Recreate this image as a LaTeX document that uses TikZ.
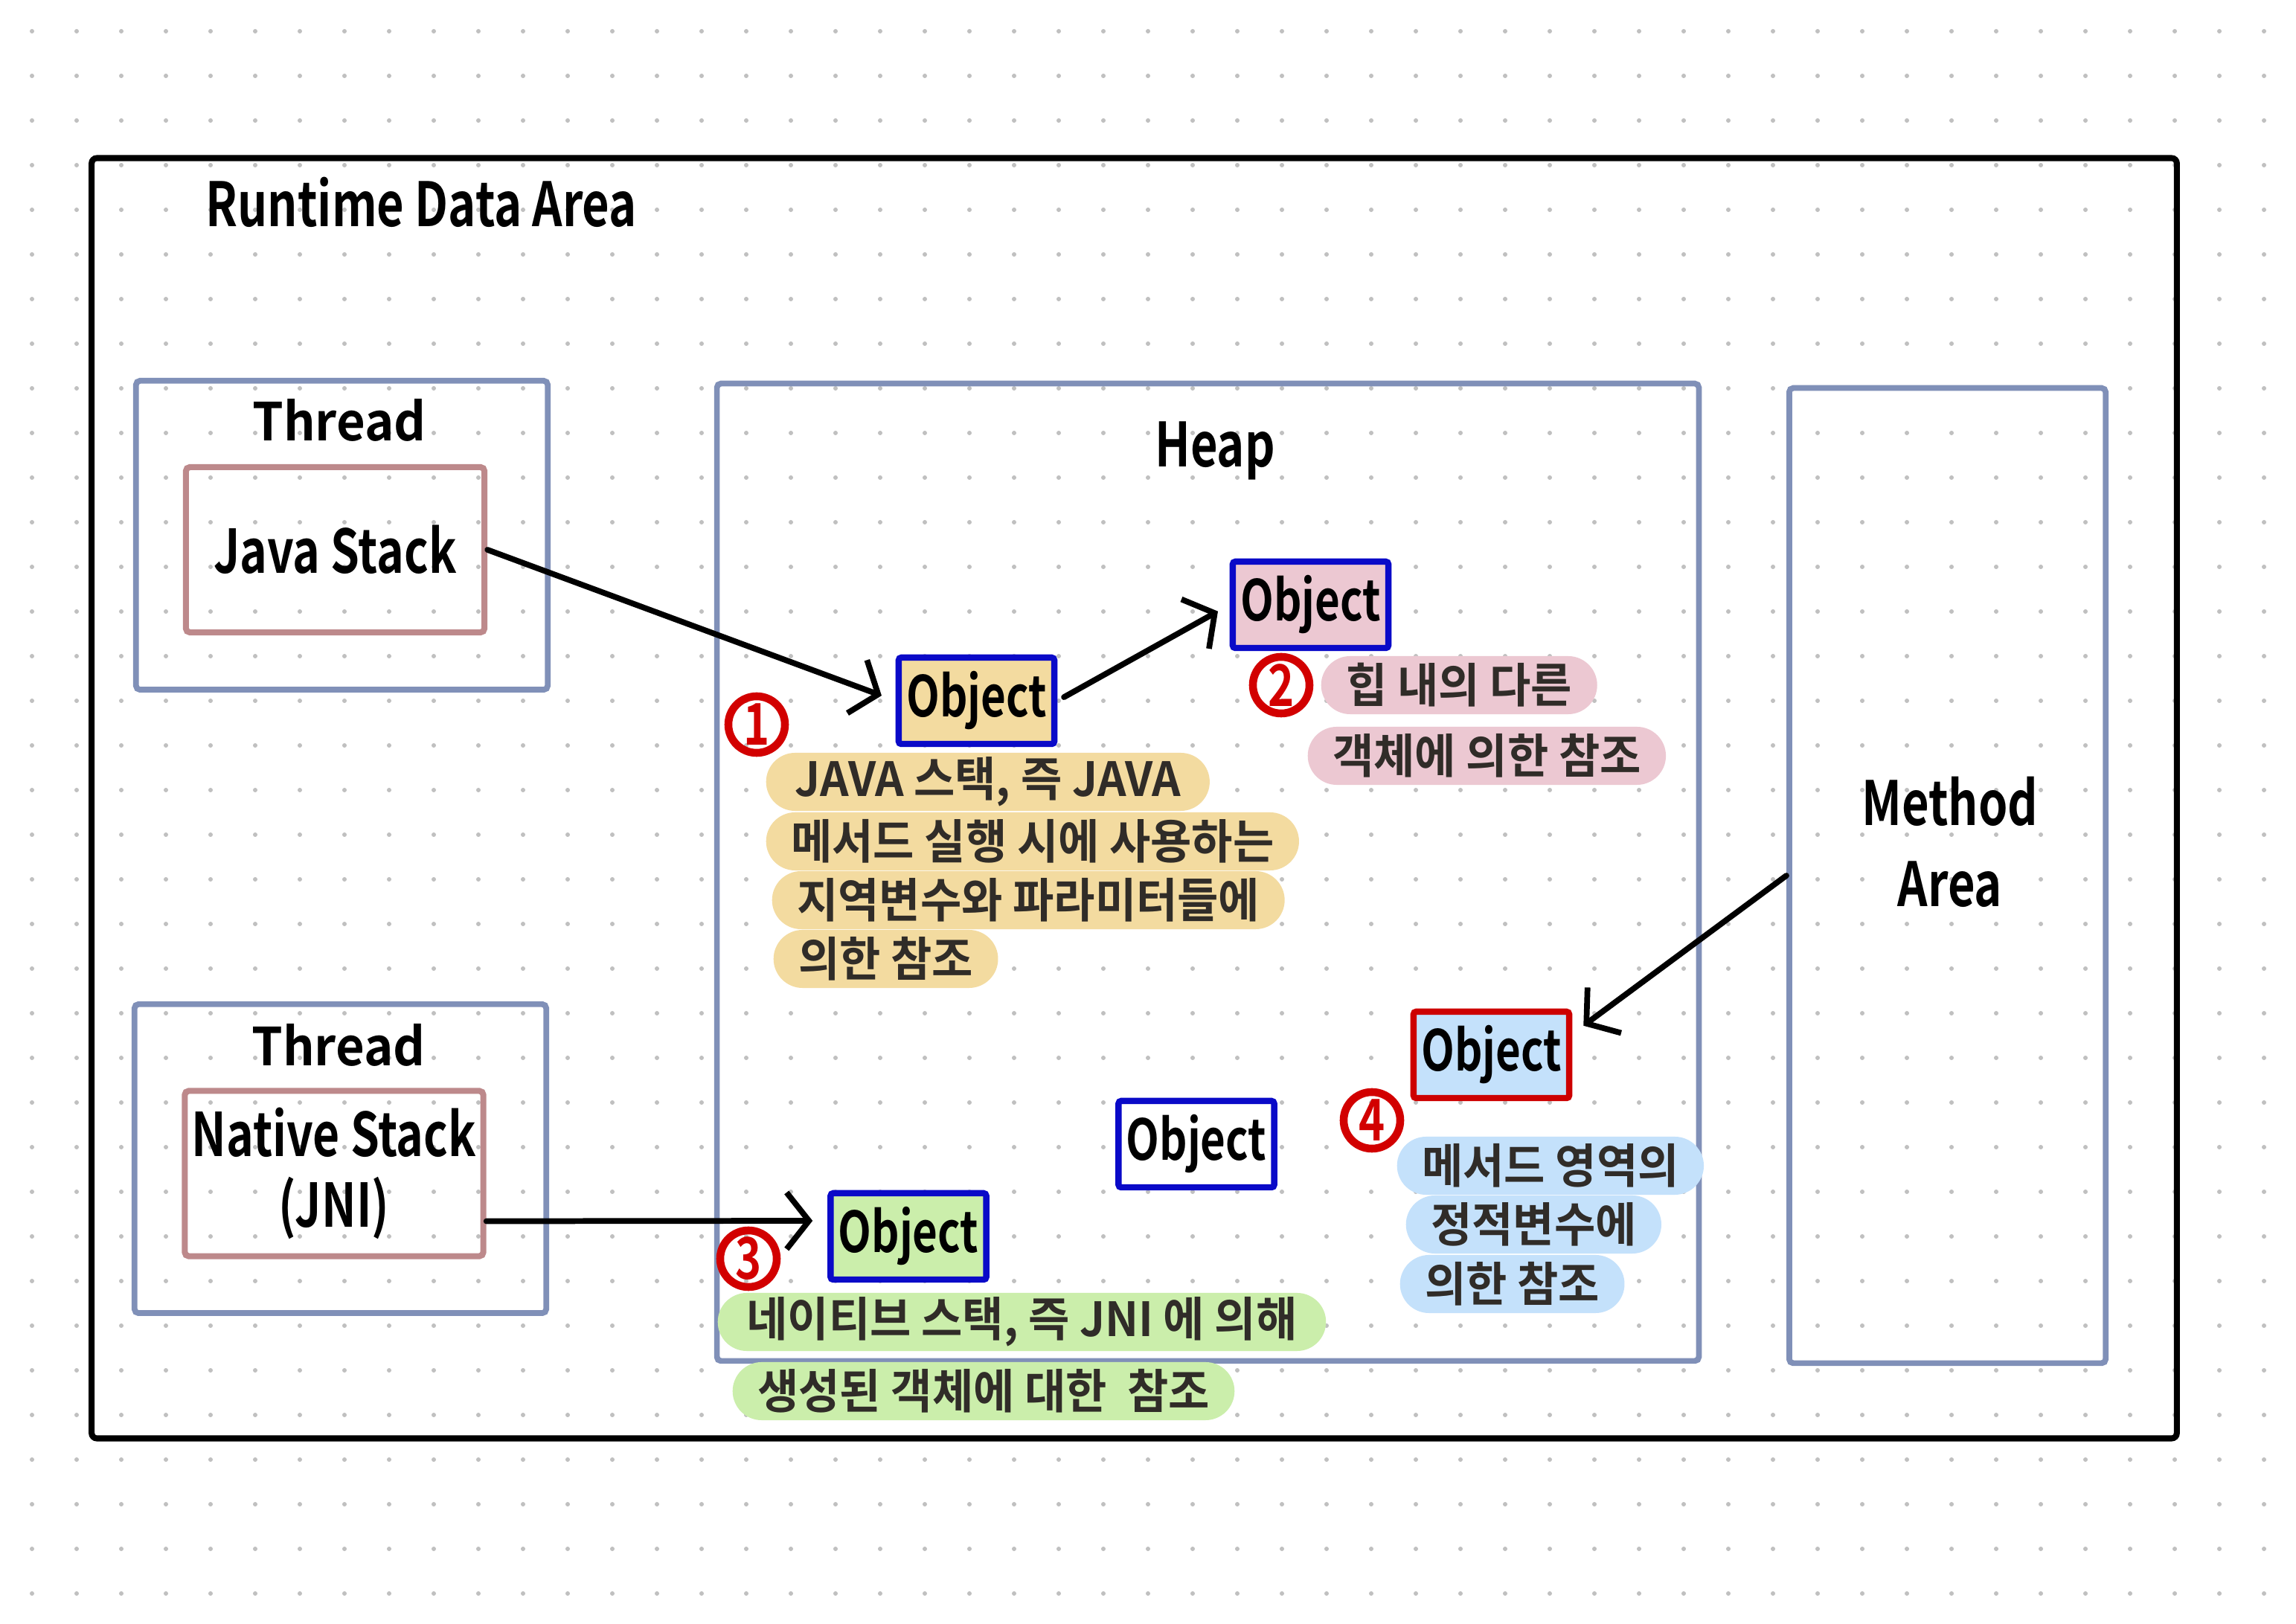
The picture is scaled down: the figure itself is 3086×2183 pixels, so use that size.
\documentclass[tikz,border=0pt]{standalone}
\usepackage{fontspec,xcolor,tikz}
\usetikzlibrary{arrows.meta,calc,positioning,shapes.misc}
\setmainfont{Noto Sans CJK KR}
\newfontfamily\headfont{Noto Sans CJK KR Bold}[FakeStretch=0.77]
\newfontfamily\handfont{Noto Sans CJK KR Bold}[FakeStretch=0.95]
\definecolor{slate}{RGB}{128,144,184}
\definecolor{rose}{RGB}{189,137,139}
\definecolor{objblue}{RGB}{10,10,200}
\definecolor{objred}{RGB}{205,0,0}
\definecolor{numred}{RGB}{210,0,0}
\definecolor{ink}{RGB}{48,44,40}
\definecolor{dotgray}{RGB}{192,192,192}
\definecolor{hlyellow}{RGB}{243,219,160}
\definecolor{hlpink}{RGB}{236,200,210}
\definecolor{hlgreen}{RGB}{203,238,171}
\definecolor{hlblue}{RGB}{196,225,251}

\begin{document}
\begin{tikzpicture}[x=0.01cm,y=-0.01cm,>={Straight Barb[length=3mm,width=7.6mm]},
  every node/.style={inner sep=0pt},
  heading/.style={font=\headfont\fontsize{23.3}{31}\selectfont},
  threadlbl/.style={font=\handfont\fontsize{20}{25}\selectfont},
  areabox/.style={draw=slate,line width=2.2pt,rounded corners=1.5pt},
  stackbox/.style={draw=rose,line width=2.3pt,rounded corners=1.5pt,minimum width=4.01cm,
    minimum height=2.22cm,align=center,font=\headfont\fontsize{23}{27}\selectfont},
  objbox/.style={draw=objblue,line width=2.4pt,rounded corners=1pt,minimum width=2.09cm,
    minimum height=1.16cm,font=\headfont\fontsize{21.5}{25}\selectfont},
  note/.style={rounded rectangle,minimum height=0.78cm,inner xsep=0.2cm,text=ink,
    font=\handfont\fontsize{18}{22}\selectfont},
  numcirc/.style={circle,draw=numred,line width=3pt,minimum size=0.76cm,text=numred,
    font=\headfont\fontsize{22}{24}\selectfont},
  ref/.style={->,line width=2.2pt,line cap=round}]
\useasboundingbox (0,0) rectangle (3086,2183);
\fill[white] (0,0) rectangle (3086,2183);
% dotted paper
\foreach \i in {0,...,50}
  \foreach \j in {0,...,35}
    \fill[dotgray] (43+60*\i,42+60*\j) circle[radius=0.03cm];

% areas
\node[draw=black,line width=2.3pt,rounded corners=2pt,minimum width=28.01cm,minimum height=17.2cm] (rda) at (1524.5,1073) {};
\node[heading,anchor=west] (rdatitle) at (276,272) {Runtime Data Area};
\node[areabox,minimum width=5.53cm,minimum height=4.15cm] (thrA) at (459.5,719.5) {};
\node[areabox,minimum width=5.53cm,minimum height=4.15cm] (thrB) at (457.5,1557.5) {};
\node[threadlbl] at (456,565) {Thread};
\node[threadlbl] at (455,1405) {Thread};
\node[stackbox] (jstack) at (450.5,739) {Java Stack};
\node[stackbox] (nstack) at (449,1577.5) {Native Stack\\(JNI)};
\node[areabox,minimum width=13.19cm,minimum height=13.13cm] (heap) at (1623.5,1172.5) {};
\node[heading] (heaplbl) at (1633,606) {Heap};
\node[areabox,minimum width=4.25cm,minimum height=13.1cm] (marea) at (2617.5,1177) {};
\node[heading,align=center] (marealbl) at (2621,1132) {Method\\Area};

% notes
\node[note,fill=hlyellow,anchor=west] (note1a) at (1029,1051) {JAVA 스택, 즉 JAVA};
\node[note,fill=hlyellow,anchor=west] (note1b) at (1029,1131) {메서드 실행 시에 사용하는};
\node[note,fill=hlyellow,anchor=west] (note1c) at (1037,1210) {지역변수와 파라미터들에};
\node[note,fill=hlyellow,anchor=west] (note1d) at (1039,1289) {의한 참조};
\node[note,fill=hlpink,anchor=west] (note2a) at (1775,921) {힙 내의 다른};
\node[note,fill=hlpink,anchor=west] (note2b) at (1757,1016) {객체에 의한 참조};
\node[note,fill=hlgreen,anchor=west] (note3a) at (964,1777) {네이티브 스택, 즉 JNI 에 의해};
\node[note,fill=hlgreen,anchor=west] (note3b) at (984,1870) {생성된 객체에 대한\ \ 참조};
\node[note,fill=hlblue,anchor=west] (note4a) at (1877,1567) {메서드 영역의};
\node[note,fill=hlblue,anchor=west] (note4b) at (1889,1646) {정적변수에};
\node[note,fill=hlblue,anchor=west] (note4c) at (1881,1726) {의한 참조};

% objects
\node[objbox,fill=hlyellow] (obj1) at (1312.5,942) {Object};
\node[objbox,fill=hlpink] (obj2) at (1761.5,813) {Object};
\node[objbox,fill=hlgreen] (obj3) at (1221,1662) {Object};
\node[objbox,draw=objred,fill=hlblue] (obj4) at (2004.5,1418) {Object};
\node[objbox,fill=white] (obj5) at (1608,1538) {Object};

\node[numcirc] (num1) at (1017,974) {1};
\node[numcirc] (num2) at (1722,921) {2};
\node[numcirc] (num3) at (1006,1692) {3};
\node[numcirc] (num4) at (1844,1506) {4};

% references
\draw[ref,shorten >=0.2cm] (jstack.east) -- (obj1.west);
\draw[ref,shorten <=0.1cm,shorten >=0.18cm] (obj1.east) -- (obj2.west);
\draw[ref] ([yshift=-0.64cm]nstack.east) -- ([xshift=-0.2cm,yshift=0.21cm]obj3.west);
\draw[ref] (marea.west) -- ([xshift=0.15cm,yshift=-0.23cm]obj4.north east);
\end{tikzpicture}
\end{document}
